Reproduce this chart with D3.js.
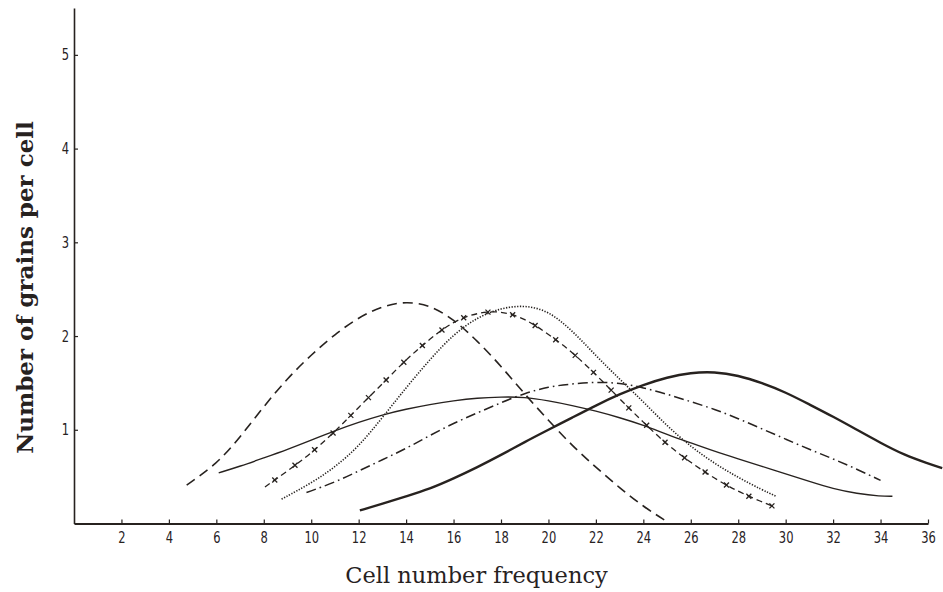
<!DOCTYPE html>
<html>
<head>
<meta charset="utf-8">
<script src="https://cdn.jsdelivr.net/npm/d3@7"></script>
<style>
  body { margin: 0; background: #fff; }
  .axis text { font-family: "DejaVu Sans", sans-serif; font-size: 16px; fill: #27221f; }
</style>
</head>
<body>
<div id="chart"></div>
<script>

// tick labels
var xTickValues = [2, 4, 6, 8, 10, 12, 14, 16, 18, 20, 22, 24, 26, 28, 30, 32, 34, 36];
var yTickValues = [1, 2, 3, 4, 5];

// curves, [cell number frequency, grains per cell]
var longDash = [[4.75, 0.41], [6, 0.63], [7, 0.92], [8, 1.25], [9, 1.55], [10, 1.8], [11, 2.02],
  [12, 2.2], [13, 2.32], [14, 2.37], [15, 2.33], [16, 2.18], [17, 1.95], [18, 1.68], [19, 1.38],
  [20, 1.1], [21, 0.83], [22, 0.6], [23, 0.38], [24, 0.18], [25, 0.02]];

var crossDash = [[8.05, 0.39], [9, 0.56], [10, 0.75], [11, 0.98], [12, 1.24], [13, 1.49], [14, 1.75],
  [15, 1.97], [16, 2.16], [17, 2.25], [18, 2.27], [19, 2.19], [20, 2.02], [21, 1.83], [22, 1.59],
  [23, 1.33], [24, 1.08], [25, 0.84], [26, 0.65], [27, 0.48], [28, 0.34], [29, 0.23], [29.5, 0.18]];

var dotted = [[8.75, 0.26], [10, 0.43], [11, 0.6], [12, 0.82], [13, 1.13], [14, 1.45], [15, 1.75],
  [16, 2.02], [17, 2.2], [18, 2.3], [19, 2.33], [20, 2.27], [21, 2.06], [22, 1.79], [23, 1.54],
  [24, 1.3], [25, 1.04], [26, 0.82], [27, 0.64], [28, 0.49], [29, 0.36], [29.6, 0.29]];

var thinSolid = [[6.1, 0.54], [7, 0.61], [8, 0.7], [9, 0.79], [10, 0.89], [11, 0.99], [12, 1.08],
  [13, 1.16], [14, 1.22], [15, 1.27], [16, 1.31], [17, 1.34], [18, 1.35], [19, 1.35], [20, 1.31],
  [21, 1.26], [22, 1.2], [23, 1.13], [24, 1.05], [25, 0.95], [26, 0.86], [27, 0.77], [28, 0.69],
  [29, 0.61], [30, 0.53], [31, 0.45], [32, 0.37], [33, 0.32], [34, 0.29], [34.5, 0.29]];

var dashDot = [[9.8, 0.33], [11, 0.44], [12, 0.56], [13, 0.68], [14, 0.8], [15, 0.94], [16, 1.07],
  [17, 1.18], [18, 1.29], [19, 1.39], [20, 1.46], [21, 1.49], [22, 1.51], [23, 1.5], [24, 1.45],
  [25, 1.38], [26, 1.3], [27, 1.22], [28, 1.12], [29, 1.01], [30, 0.9], [31, 0.79], [32, 0.69],
  [33, 0.58], [34, 0.46]];

var thickSolid = [[12.05, 0.14], [13, 0.21], [14, 0.29], [15, 0.37], [16, 0.48], [17, 0.6],
  [18, 0.73], [19, 0.87], [20, 1.0], [21, 1.13], [22, 1.26], [23, 1.38], [24, 1.48], [25, 1.56],
  [26, 1.61], [27, 1.62], [28, 1.58], [29, 1.5], [30, 1.4], [31, 1.27], [32, 1.14], [33, 1.0],
  [34, 0.86], [35, 0.73], [36, 0.64], [36.6, 0.59]];

var ink = '#27221f';
var width = 943, height = 592;

var x = d3.scaleLinear().domain([0, 36]).range([74, 928]);
var y = d3.scaleLinear().domain([0, 5.5]).range([523.5, 8]);

var svg = d3.select('#chart')
  .append('svg')
    .attr('width', width)
    .attr('height', height);

// Axes, ticks point inward like the printed figure
var xAxis = d3.axisBottom(x).tickValues(xTickValues).tickSize(-4).tickSizeOuter(0)
  .tickPadding(8).tickFormat(d3.format('d'));
var yAxis = d3.axisLeft(y).tickValues(yTickValues).tickSize(-4).tickSizeOuter(0)
  .tickPadding(7).tickFormat(d3.format('d'));

var gx = svg.append('g')
  .attr('class', 'x axis')
  .attr('transform', 'translate(0,' + y(0) + ')')
  .call(xAxis);
gx.select('.domain').attr('stroke', ink).attr('stroke-width', 2.2);

var gy = svg.append('g')
  .attr('class', 'y axis')
  .attr('transform', 'translate(' + x(0) + ',0)')
  .call(yAxis);
gy.select('.domain').attr('stroke', ink).attr('stroke-width', 1.6);

svg.selectAll('.axis .tick line').attr('stroke', ink).attr('stroke-width', 1.2);
// narrow digits
svg.selectAll('.axis .tick text').attr('transform', 'scale(0.72,1)');

// Axis titles
svg.append('text')
  .attr('x', 476.5)
  .attr('y', 583)
  .attr('text-anchor', 'middle')
  .style('font-family', '"DejaVu Serif", serif')
  .style('font-size', '22.5px')
  .style('fill', ink)
  .text('Cell number frequency');

svg.append('text')
  .attr('transform', 'translate(32.5,287.5) rotate(-90)')
  .attr('text-anchor', 'middle')
  .style('font-family', '"DejaVu Serif", serif')
  .style('font-weight', 'bold')
  .style('font-size', '23px')
  .style('fill', ink)
  .text('Number of grains per cell');

// Curves
var line = d3.line()
  .x(function(d) { return x(d[0]); })
  .y(function(d) { return y(d[1]); })
  .curve(d3.curveBasis);

var curves = [
  {data: thinSolid, width: 1.4, dash: null},
  {data: dashDot, width: 1.5, dash: '10,4,1.6,4'},
  {data: dotted, width: 1.6, dash: '1.3,1.5'},
  {data: longDash, width: 1.6, dash: '10,6'},
  {data: crossDash, width: 1.3, dash: '6,4', cross: true},
  {data: thickSolid, width: 2.4, dash: null}
];

curves.forEach(function(c) {
  var p = svg.append('path')
    .attr('d', line(c.data))
    .attr('fill', 'none')
    .attr('stroke', ink)
    .attr('stroke-width', c.width)
    .attr('stroke-linecap', 'butt');
  if (c.dash) p.attr('stroke-dasharray', c.dash);

  if (c.cross) {
    var node = p.node();
    var len = node.getTotalLength();
    var marks = svg.append('g').attr('stroke', ink).attr('stroke-width', 1.3);
    for (var s = 12; s <= len; s += 25) {
      var pt = node.getPointAtLength(s);
      marks.append('line')
        .attr('x1', pt.x - 2.5).attr('y1', pt.y - 2.5)
        .attr('x2', pt.x + 2.5).attr('y2', pt.y + 2.5);
      marks.append('line')
        .attr('x1', pt.x - 2.5).attr('y1', pt.y + 2.5)
        .attr('x2', pt.x + 2.5).attr('y2', pt.y - 2.5);
    }
  }
});

</script>
</body>
</html>
